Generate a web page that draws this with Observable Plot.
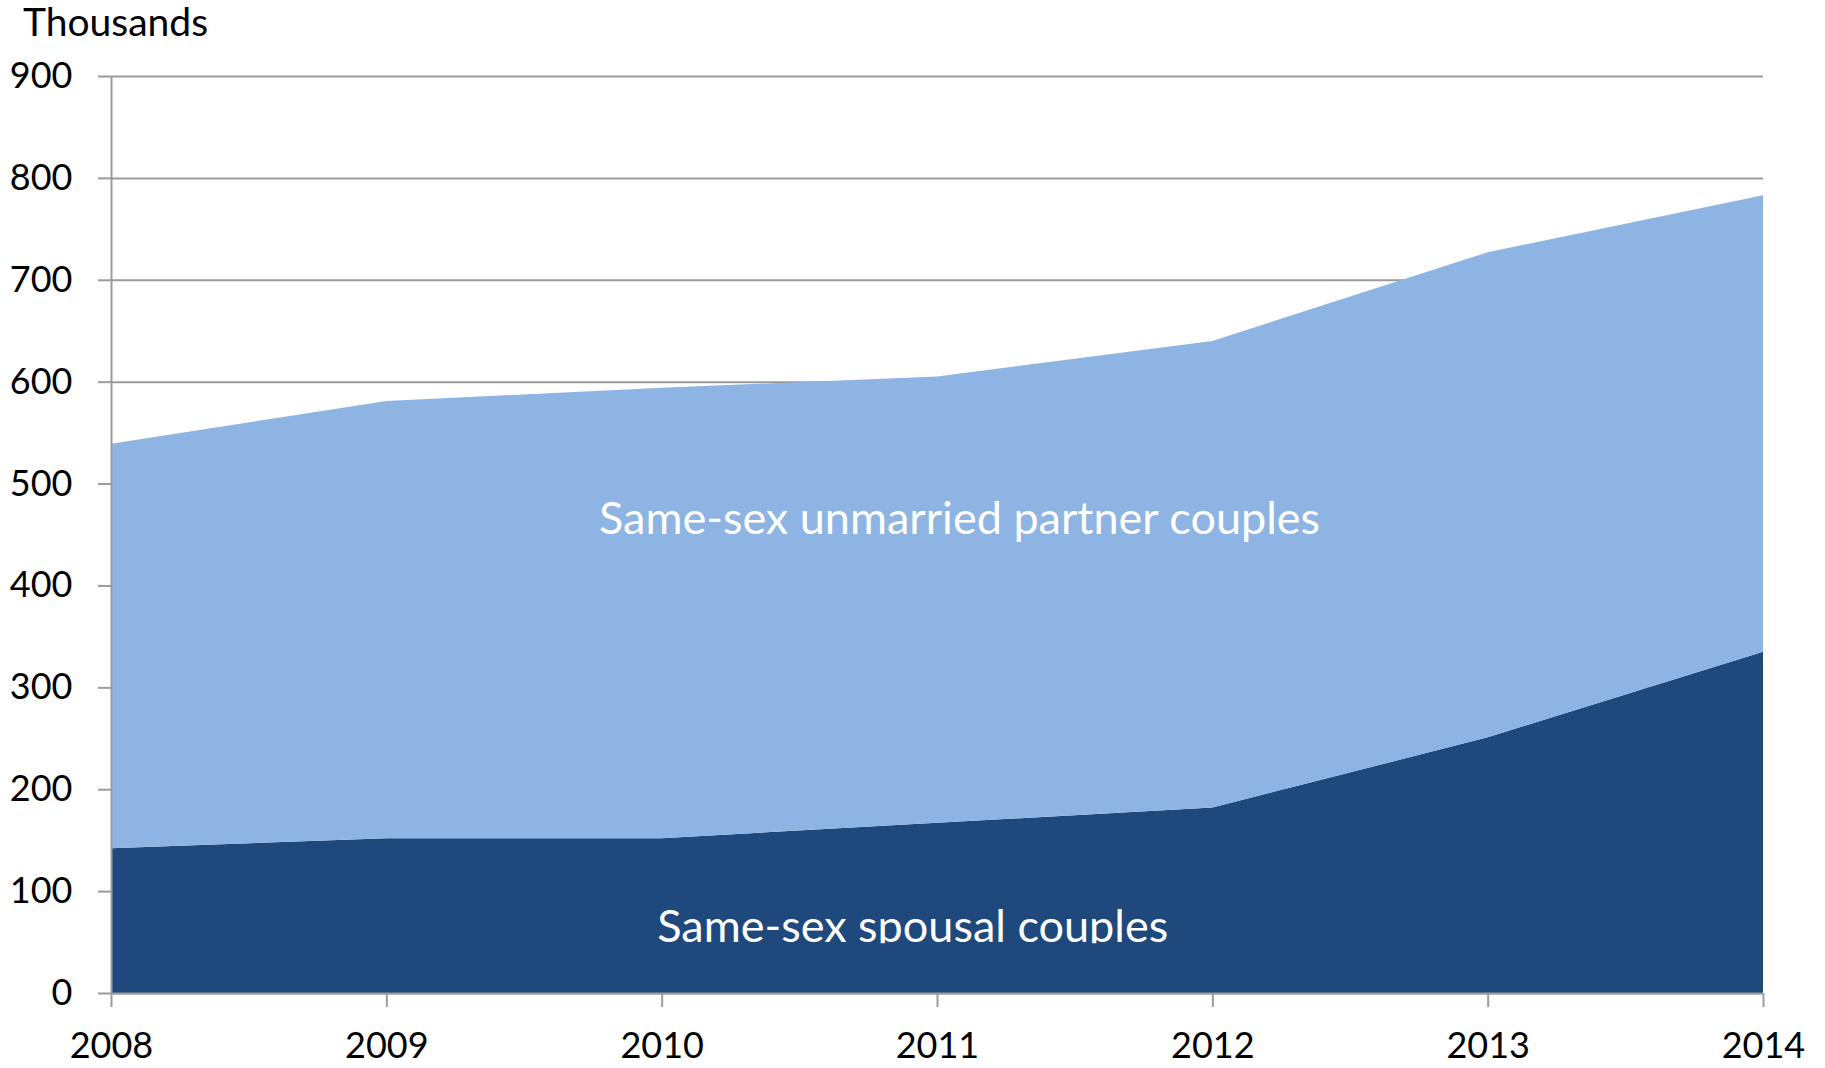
<!DOCTYPE html>
<html>
<head>
<meta charset="utf-8">
<script src="https://cdn.jsdelivr.net/npm/d3@7"></script>
<script src="https://cdn.jsdelivr.net/npm/@observablehq/plot@0.6"></script>
<style>
  body { margin: 0; background: #ffffff; }
  #wrap { position: relative; width: 1825px; height: 1068px; }
  #unit { position: absolute; left: 23px; top: 2px; font-family: Lato, sans-serif; font-size: 39px; line-height: 1; color: #000; }
</style>
</head>
<body>
<div id="wrap"><div id="unit">Thousands</div></div>
<script>
// ---- data (thousands of couples) ----
const years = [2008, 2009, 2010, 2011, 2012, 2013, 2014];
const spousal = [142, 152, 152, 167, 182, 251, 335];
const unmarried = [397, 429, 442, 438, 458, 476, 448];
const yTicks = [0, 100, 200, 300, 400, 500, 600, 700, 800, 900];
const seriesNames = ["Same-sex spousal couples", "Same-sex unmarried partner couples"];
const seriesColors = ["#1F497D", "#8EB4E3"];
const labelYears = [2010.91, 2011.08];
const labelValues = [65, 465];
const clipValue = 48.8;

const rows = years.flatMap((yr, i) => [
  { year: yr, series: seriesNames[0], value: spousal[i] },
  { year: yr, series: seriesNames[1], value: unmarried[i] }
]);
const labels = seriesNames.map((name, i) => ({ name, year: labelYears[i], value: labelValues[i] }));

const gridColor = "#9b9b9b";

const plot = Plot.plot({
  width: 1825,
  height: 1068,
  marginLeft: 111,
  marginRight: 62,
  marginTop: 76,
  marginBottom: 75,
  style: { fontFamily: "Lato, sans-serif", fontSize: "36px", color: "#000", background: "transparent", overflow: "visible" },
  x: { domain: [2008, 2014] },
  y: { domain: [0, 900] },
  color: { domain: seriesNames, range: seriesColors },
  marks: [
    Plot.gridY(yTicks, { stroke: gridColor, strokeOpacity: 1, strokeWidth: 2 }),
    Plot.areaY(rows, { x: "year", y: "value", fill: "series", z: "series", order: seriesNames }),
    Plot.ruleX([2008], { stroke: gridColor, strokeWidth: 2 }),
    Plot.ruleY([0], { stroke: gridColor, strokeWidth: 2 }),
    Plot.axisY(yTicks, { tickSize: 13, tickPadding: 26, stroke: gridColor, strokeWidth: 2, fill: "#000", label: null }),
    Plot.axisX(years, { tickSize: 14, tickPadding: 25, stroke: gridColor, strokeWidth: 2, fill: "#000", label: null, tickFormat: d => String(d) }),
    Plot.text(labels, { x: "year", y: "value", text: "name", fill: "#ffffff", fontSize: 45, textAnchor: "middle", lineAnchor: "middle" })
  ]
});

document.getElementById("wrap").prepend(plot);
plot.style.position = "absolute";
plot.style.left = "0";
plot.style.top = "0";

// clip the spousal label at its baseline, as in the reference
const yScale = plot.scale("y");
const svg = d3.select(plot);
const cutY = yScale.apply(clipValue);
svg.append("defs").append("clipPath").attr("id", "spousal-clip")
  .attr("clipPathUnits", "userSpaceOnUse")
  .append("rect").attr("x", 0).attr("y", 0).attr("width", 1825).attr("height", cutY);
const spousalText = svg.selectAll("text").filter(function () { return this.textContent === seriesNames[0]; });
spousalText.each(function () {
  const parent = this.parentNode;
  const wrapper = document.createElementNS("http://www.w3.org/2000/svg", "g");
  wrapper.setAttribute("clip-path", "url(#spousal-clip)");
  parent.parentNode.insertBefore(wrapper, parent.nextSibling);
  const inner = parent.cloneNode(false);
  inner.appendChild(this);
  wrapper.appendChild(inner);
});
</script>
</body>
</html>
